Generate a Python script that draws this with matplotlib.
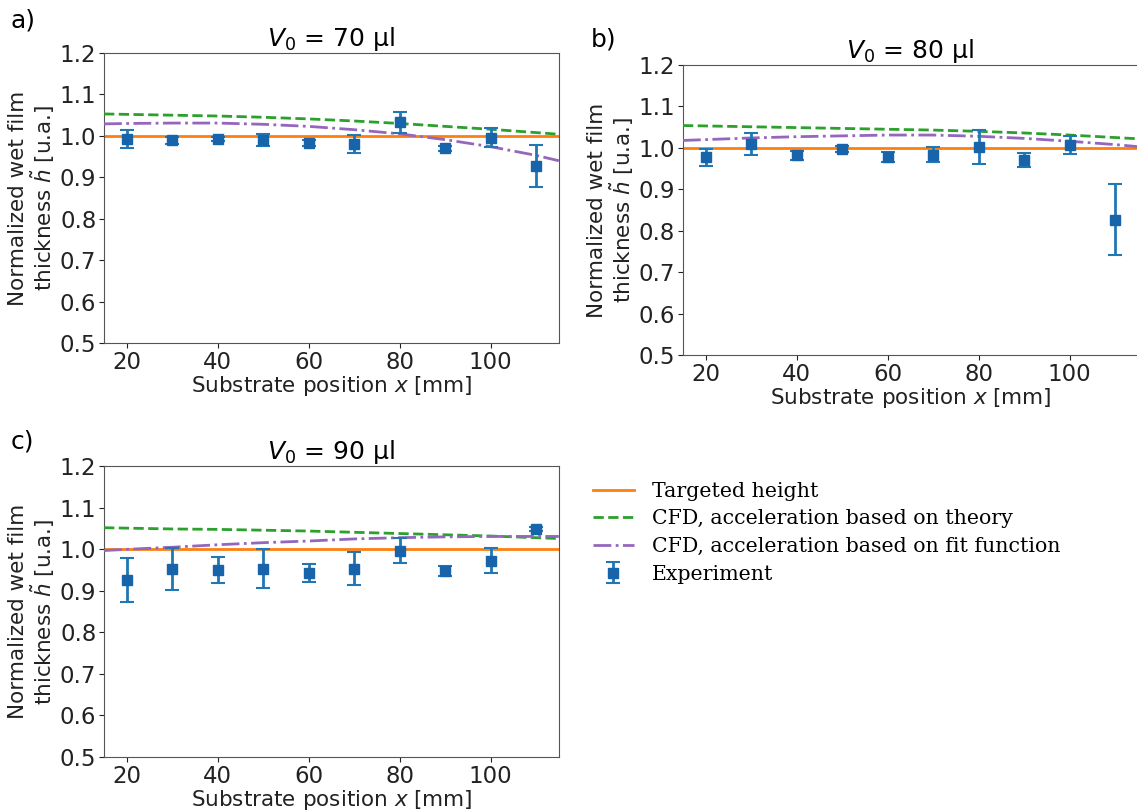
import numpy as np
import matplotlib.pyplot as plt

# measurement positions
x_exp = [20, 30, 40, 50, 60, 70, 80, 90, 100, 110]
# simulation curves sampled along the substrate
x_cfd = [15, 20, 30, 40, 50, 60, 70, 80, 90, 100, 110, 115]

volumes = [70, 80, 90]

## V0 = 70 ul
exp_70 = [0.993, 0.989, 0.993, 0.990, 0.982, 0.980, 1.033, 0.970, 0.996, 0.928]
err_70 = [0.022, 0.009, 0.005, 0.014, 0.007, 0.021, 0.025, 0.006, 0.023, 0.051]
theory_70 = [1.053, 1.052, 1.050, 1.048, 1.045, 1.041, 1.036, 1.030, 1.023, 1.016, 1.008, 1.004]
fit_70 = [1.029, 1.030, 1.031, 1.031, 1.028, 1.023, 1.015, 1.005, 0.991, 0.974, 0.953, 0.940]

## V0 = 80 ul
exp_80 = [0.977, 1.009, 0.982, 0.998, 0.978, 0.984, 1.001, 0.971, 1.007, 0.827]
err_80 = [0.021, 0.026, 0.011, 0.007, 0.013, 0.018, 0.041, 0.016, 0.021, 0.085]
theory_80 = [1.054, 1.053, 1.051, 1.049, 1.047, 1.045, 1.043, 1.040, 1.036, 1.031, 1.025, 1.022]
fit_80 = [1.018, 1.020, 1.024, 1.027, 1.029, 1.031, 1.031, 1.028, 1.023, 1.016, 1.008, 1.003]

## V0 = 90 ul
exp_90 = [0.926, 0.953, 0.951, 0.953, 0.943, 0.953, 0.997, 0.948, 0.973, 1.049]
err_90 = [0.053, 0.050, 0.031, 0.047, 0.022, 0.040, 0.031, 0.013, 0.030, 0.005]
theory_90 = [1.052, 1.051, 1.049, 1.048, 1.046, 1.044, 1.041, 1.038, 1.035, 1.032, 1.028, 1.026]
fit_90 = [0.997, 1.000, 1.005, 1.011, 1.016, 1.020, 1.025, 1.028, 1.030, 1.031, 1.031, 1.031]

target = 1.0

panels = [("a)", exp_70, err_70, theory_70, fit_70),
          ("b)", exp_80, err_80, theory_80, fit_80),
          ("c)", exp_90, err_90, theory_90, fit_90)]

fig = plt.figure(figsize=(11.37, 8.10), dpi=100)

# axes boxes [left, bottom, width, height] in figure fractions
boxes = [[0.0915, 0.5765, 0.400, 0.358],
         [0.6007, 0.5617, 0.400, 0.358],
         [0.0915, 0.0654, 0.400, 0.359]]
label_pos = [(0.009, 0.990), (0.520, 0.966), (0.009, 0.470)]

tick_fs = 16.5
lab_fs = 15.5
handles = None
for i, (tag, y_exp, y_err, y_th, y_fit) in enumerate(panels):
    ax = fig.add_axes(boxes[i])
    h1 = ax.axhline(target, color='tab:orange', lw=2, zorder=2)
    h2, = ax.plot(x_cfd, y_th, '--', color='tab:green', lw=2, zorder=3)
    h3, = ax.plot(x_cfd, y_fit, '-.', color='tab:purple', lw=2, zorder=3)
    h4 = ax.errorbar(x_exp, y_exp, yerr=y_err, fmt='s', color='#1764ab',
                     ecolor='#1f77b4', elinewidth=2, capsize=5, capthick=1.5,
                     ms=6.5, zorder=4)
    handles = [h1, h2, h3, h4]

    ax.set_xlim(15, 115)
    ax.set_ylim(0.5, 1.2)
    ax.set_xticks([20, 40, 60, 80, 100])
    ax.set_yticks(np.arange(0.5, 1.21, 0.1))
    ax.yaxis.set_major_formatter(plt.FormatStrFormatter('%.1f'))
    ax.tick_params(labelsize=tick_fs, colors='#222222', pad=2)
    for s in ax.spines.values():
        s.set_color('#555555')
    ax.set_xlabel('Substrate position $x$ [mm]', fontsize=lab_fs, labelpad=0,
                  color='#222222')
    ax.set_ylabel('Normalized wet film\nthickness $\\tilde{h}$ [u.a.]', fontsize=lab_fs,
                  color='#222222', labelpad=2, linespacing=1.0)
    ax.set_title(f'$V_0$ = {volumes[i]} µl', fontsize=18, pad=5)
    fig.text(*label_pos[i], tag, fontsize=18, va='top')

fig.legend(handles,
           ['Targeted height', 'CFD, acceleration based on theory',
            'CFD, acceleration based on fit function', 'Experiment'],
           loc='upper left', bbox_to_anchor=(0.505, 0.428), frameon=False,
           prop={'family': 'DejaVu Serif', 'size': 14.8}, handlelength=2.0,
           handletextpad=0.9, labelspacing=0.42)

fig.savefig('out.png', dpi=100)
